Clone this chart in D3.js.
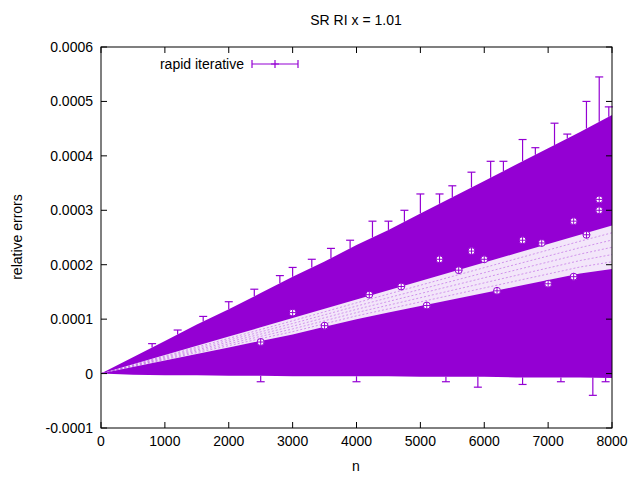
<!DOCTYPE html><html><head><meta charset="utf-8">
<script src="https://cdn.jsdelivr.net/npm/d3@7"></script>
<style>body{margin:0;background:#fff}text{font-family:"Liberation Sans",Arial,sans-serif}</style></head><body>
<svg id="c" width="640" height="480"></svg>
<script>
const envN=[0,500,1000,1500,2000,2500,3000,3500,4000,4500,5000,5500,6000,6500,7000,7500,8000];
const upperE=[0,0.30,0.60,0.90,1.18,1.48,1.78,2.06,2.36,2.64,2.94,3.24,3.54,3.84,4.14,4.44,4.75];
const lowerE=[0,-0.02,-0.03,-0.03,-0.04,-0.04,-0.05,-0.05,-0.05,-0.05,-0.06,-0.06,-0.06,-0.07,-0.07,-0.07,-0.08];
const bandHi=[0,0.17,0.34,0.51,0.68,0.85,1.02,1.19,1.36,1.53,1.70,1.87,2.04,2.21,2.38,2.55,2.72];
const bandLo=[0,0.12,0.24,0.36,0.48,0.6,0.72,0.86,1.0,1.12,1.24,1.36,1.48,1.6,1.72,1.84,1.92];
const capN=[800,1200,1600,2000,2400,2800,3000,3300,3600,3900,4250,4500,4750,5000,5300,5500,5800,6100,6300,6600,6800,7100,7300,7600,7800,7950,2500,4000,5400,5900,6600,7200,7700,7900];
const capV=[0.55,0.80,1.05,1.32,1.55,1.80,1.95,2.10,2.30,2.45,2.80,2.80,3.00,3.30,3.30,3.45,3.70,3.90,3.90,4.30,4.15,4.60,4.40,5.00,5.45,4.90,-0.15,-0.15,-0.15,-0.25,-0.2,-0.15,-0.4,-0.15];
const circN=[7800,7800,7400,6600,5800,5300,7400,6200,5100,4200,3000,6900,2500,7000,4700,3500,5600,7600,6000];
const circV=[3.2,3.0,2.8,2.45,2.25,2.1,1.78,1.52,1.25,1.45,1.12,2.4,0.58,1.65,1.6,0.88,1.9,2.55,2.1];
const xTicks=[0,1000,2000,3000,4000,5000,6000,7000,8000];
const yTicks=[-0.0001,0,0.0001,0.0002,0.0003,0.0004,0.0005,0.0006];
const C="#9400d3";
const svg=d3.select("#c");
const L=101,R=612,T=47,B=428;
const x=d3.scaleLinear().domain([0,8000]).range([L,R]);
const y=d3.scaleLinear().domain([-0.0001,0.0006]).range([B,T]);
const e=v=>v*1e-4;
const g=svg.append("g");
const idx=d3.range(envN.length);
const interp=(arr,n)=>{const k=Math.min(15,Math.floor(n/500));const f=(n-envN[k])/500;return arr[k]+(arr[k+1]-arr[k])*f;};
g.append("path").attr("fill",C).attr("d",d3.area().x(i=>x(envN[i])).y0(i=>y(e(lowerE[i]))).y1(i=>y(e(upperE[i])))(idx));
g.append("path").attr("fill","#f3e6fa").attr("d",d3.area().x(i=>x(envN[i])).y0(i=>y(e(bandLo[i]))).y1(i=>y(e(bandHi[i])))(idx));
const tex=g.append("g").attr("stroke",C).attr("stroke-width",0.6).attr("stroke-dasharray","2,2").attr("opacity",0.6);
for(let k=1;k<6;k++){tex.append("path").attr("fill","none").attr("d",d3.line().x(i=>x(envN[i])).y(i=>y(e(bandLo[i]+(bandHi[i]-bandLo[i])*k/6)))(idx));}
const cg=g.append("g").attr("stroke",C).attr("stroke-width",1.2);
capN.forEach((n,i)=>{const v=e(capV[i]);const base=v>0?y(e(interp(upperE,n))):y(e(interp(lowerE,n)));
cg.append("line").attr("x1",x(n)).attr("x2",x(n)).attr("y1",base).attr("y2",y(v));
cg.append("line").attr("x1",x(n)-4).attr("x2",x(n)+4).attr("y1",y(v)).attr("y2",y(v));});
circN.forEach((n,i)=>{const cx=x(n),cy=y(e(circV[i]));
g.append("circle").attr("cx",cx).attr("cy",cy).attr("r",3.5).attr("fill","#fff").attr("stroke",C);
g.append("path").attr("d",`M${cx-3.5},${cy}H${cx+3.5}M${cx},${cy-3.5}V${cy+3.5}`).attr("stroke",C);});
svg.append("rect").attr("x",L).attr("y",T).attr("width",R-L).attr("height",B-T).attr("fill","none").attr("stroke","#000");
const ax=svg.append("g").attr("stroke","#000");
xTicks.forEach(t=>{ax.append("line").attr("x1",x(t)).attr("x2",x(t)).attr("y1",B).attr("y2",B-6);ax.append("line").attr("x1",x(t)).attr("x2",x(t)).attr("y1",T).attr("y2",T+6);});
yTicks.forEach(t=>{ax.append("line").attr("x1",L).attr("x2",L+6).attr("y1",y(t)).attr("y2",y(t));ax.append("line").attr("x1",R).attr("x2",R-6).attr("y1",y(t)).attr("y2",y(t));});
svg.selectAll(".xt").data(xTicks).join("text").attr("x",d=>x(d)).attr("y",B+18).attr("text-anchor","middle").attr("font-size",14).text(d=>d);
svg.selectAll(".yt").data(yTicks).join("text").attr("x",L-8).attr("y",d=>y(d)+5).attr("text-anchor","end").attr("font-size",14).text(d=>d===0?"0":d.toFixed(4));
svg.append("text").attr("x",356).attr("y",25).attr("text-anchor","middle").attr("font-size",14).text("SR RI x = 1.01");
svg.append("text").attr("x",356).attr("y",471).attr("text-anchor","middle").attr("font-size",14).text("n");
svg.append("text").attr("transform","translate(22,237) rotate(-90)").attr("text-anchor","middle").attr("font-size",14).text("relative errors");
svg.append("text").attr("x",244).attr("y",69).attr("text-anchor","end").attr("font-size",14).text("rapid iterative");
const lg=svg.append("g").attr("stroke",C).attr("stroke-width",1.2);
lg.append("line").attr("x1",252).attr("x2",298).attr("y1",64).attr("y2",64);
lg.append("line").attr("x1",252).attr("x2",252).attr("y1",60).attr("y2",68);
lg.append("line").attr("x1",298).attr("x2",298).attr("y1",60).attr("y2",68);
lg.append("path").attr("d","M271,64h8M275,60v8");
</script></body></html>
